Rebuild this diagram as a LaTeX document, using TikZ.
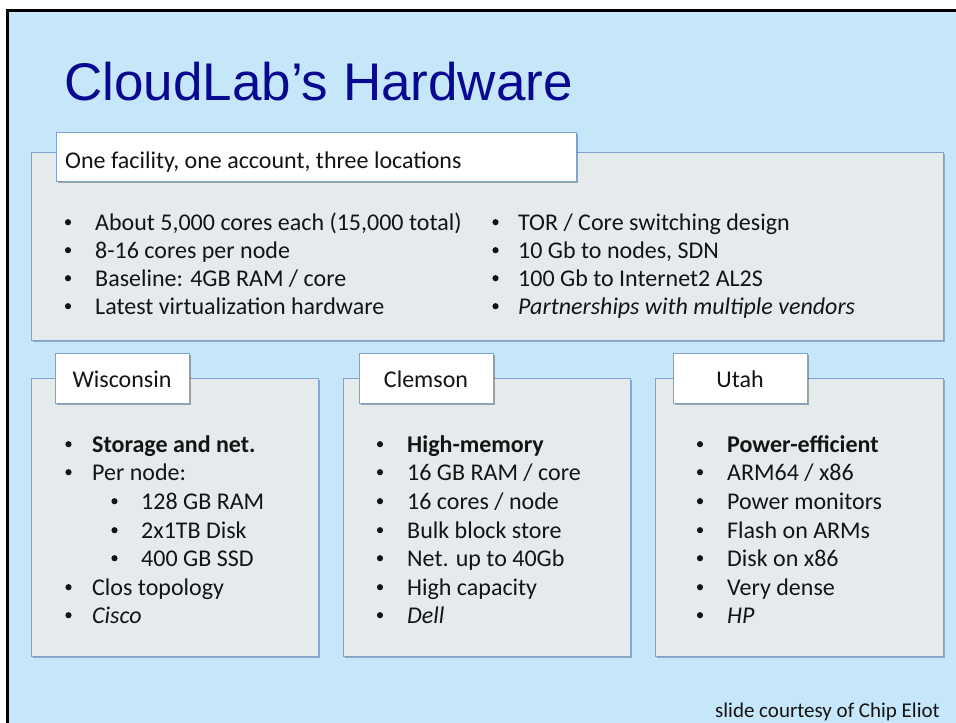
\documentclass[tikz,border=0pt]{standalone}
\usepackage{fontspec}
\setmainfont{Carlito}
\newfontfamily\titlefont{Liberation Sans}
\usetikzlibrary{shadows}
\definecolor{slidebg}{RGB}{198,230,249}
\definecolor{panelfill}{RGB}{229,234,236}
\definecolor{panelline}{RGB}{127,163,207}
\definecolor{titleblue}{RGB}{8,8,145}
\newcommand\bitem[5]{%
  \node[bul] (#1b) at (#2,#4-7.8) {};
  \node[txt] (#1) at (#3,#4) {#5};}
\begin{document}
\begin{tikzpicture}[x=1pt,y=-1pt,
  panel/.style={draw=panelline, fill=panelfill, line width=1pt, inner sep=0pt,
    anchor=north west, drop shadow={shadow xshift=1.2pt, shadow yshift=-1.5pt, fill=black, opacity=0.25}},
  hbox/.style={draw=panelline, fill=white, line width=1pt, inner sep=0pt,
    anchor=north west, drop shadow={shadow xshift=1.2pt, shadow yshift=-1.5pt, fill=black, opacity=0.3}},
  txt/.style={anchor=base west, inner sep=0pt, font=\fontsize{24}{28}\selectfont, text=black!92},
  bul/.style={circle, fill=black!92, inner sep=0pt, minimum size=6.2pt},
  lbl/.style={anchor=base, inner sep=0pt, font=\fontsize{24}{28}\selectfont, text=black!92}]
\useasboundingbox (0,0) rectangle (956,723);
\fill[white] (0,0) rectangle (956,723);
\fill[black] (6,9) rectangle (956,723);
\fill[slidebg] (8.5,11.5) rectangle (956,723);
% title
\node[anchor=base west, inner sep=0pt, font=\titlefont\fontsize{53}{60}\selectfont, text=titleblue] (title) at (64,100) {CloudLab’s Hardware};
% top panel
\node[panel, minimum width=912pt, minimum height=188pt] (top) at (31,152) {};
\node[hbox, minimum width=520pt, minimum height=49pt] (tophead) at (56,132) {};
\node[txt] (topheadt) at (65,168) {One facility, one account, three locations};
\bitem{a1}{68}{95}{230}{About 5,000 cores each (15,000 total)}
\bitem{a2}{68}{95}{258}{8-16 cores per node}
\bitem{a3}{68}{95}{286}{Baseline: 4GB RAM / core}
\bitem{a4}{68}{95}{314}{Latest virtualization hardware}
\bitem{b1}{495.5}{518}{230}{TOR / Core switching design}
\bitem{b2}{495.5}{518}{258}{10 Gb to nodes, SDN}
\bitem{b3}{495.5}{518}{286}{100 Gb to Internet2 AL2S}
\bitem{b4}{495.5}{518}{314}{\itshape Partnerships with multiple vendors}
% bottom panels
\node[panel, minimum width=287pt, minimum height=278pt] (wis) at (31,378) {};
\node[panel, minimum width=287pt, minimum height=278pt] (cle) at (343,378) {};
\node[panel, minimum width=288pt, minimum height=278pt] (uta) at (655,378) {};
\node[hbox, minimum width=134pt, minimum height=50pt] (wish) at (55,353) {};
\node[hbox, minimum width=134pt, minimum height=50pt] (cleh) at (359,353) {};
\node[hbox, minimum width=134pt, minimum height=50pt] (utah) at (673,353) {};
\node[lbl] (wist) at (122,387) {Wisconsin};
\node[lbl] (clet) at (426,387) {Clemson};
\node[lbl] (utat) at (740,387) {Utah};
% Wisconsin
\bitem{w1}{68.5}{92}{452}{\bfseries Storage and net.}
\bitem{w2}{68.5}{92}{480}{Per node:}
\bitem{w3}{114.5}{141}{509}{128 GB RAM}
\bitem{w4}{114.5}{141}{538}{2x1TB Disk}
\bitem{w5}{114.5}{141}{566}{400 GB SSD}
\bitem{w6}{68.5}{92}{595}{Clos topology}
\bitem{w7}{68.5}{92}{623}{\itshape Cisco}
% Clemson
\bitem{c1}{380}{407}{452}{\bfseries High-memory}
\bitem{c2}{380}{407}{480}{16 GB RAM / core}
\bitem{c3}{380}{407}{509}{16 cores / node}
\bitem{c4}{380}{407}{538}{Bulk block store}
\bitem{c5}{380}{407}{566}{Net. up to 40Gb}
\bitem{c6}{380}{407}{595}{High capacity}
\bitem{c7}{380}{407}{623}{\itshape Dell}
% Utah
\bitem{u1}{700}{727}{452}{\bfseries Power-efficient}
\bitem{u2}{700}{727}{480}{ARM64 / x86}
\bitem{u3}{700}{727}{509}{Power monitors}
\bitem{u4}{700}{727}{538}{Flash on ARMs}
\bitem{u5}{700}{727}{566}{Disk on x86}
\bitem{u6}{700}{727}{595}{Very dense}
\bitem{u7}{700}{727}{623}{\itshape HP}
% footer
\node[anchor=base east, inner sep=0pt, font=\fontsize{21}{25}\selectfont, text=black!92] (credit) at (940,717) {slide courtesy of Chip Eliot};
\end{tikzpicture}
\end{document}
